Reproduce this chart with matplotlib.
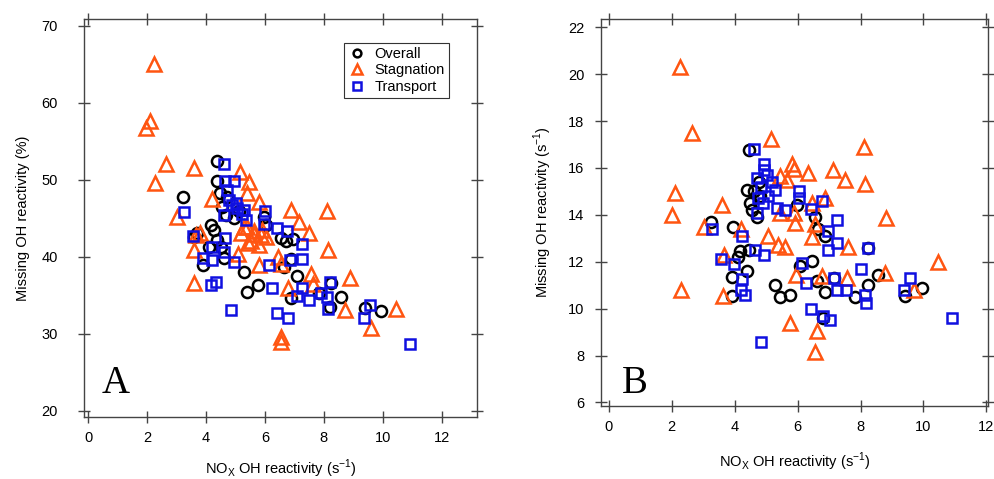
import matplotlib
matplotlib.use("Agg")
from matplotlib import pyplot as plt

# Panel A: missing OH reactivity (%) vs NOx OH reactivity (s-1)
overall_a_x = [4.38, 4.36, 4.47, 3.21, 4.72, 4.67, 4.95, 4.16, 4.27, 3.70, 4.38, 4.10, 4.50, 3.88,
               5.27, 5.75, 5.40, 5.97, 6.03, 6.54, 6.94, 6.70, 6.88, 7.10, 6.65, 6.88, 7.84, 8.24,
               8.58, 8.22, 9.38, 9.95, 4.55, 5.10, 3.59, 4.60]
overall_a_y = [52.5, 49.9, 48.3, 47.8, 47.8, 45.5, 45.0, 44.2, 43.5, 43.1, 42.2, 41.3, 41.3, 38.9,
               38.0, 36.4, 35.5, 45.2, 44.2, 42.4, 42.3, 42.0, 39.7, 37.5, 38.7, 34.6, 35.3, 36.6,
               34.8, 33.5, 33.3, 33.0, 46.5, 46.0, 42.6, 39.8]

stag_a_x = [2.23, 2.08, 1.94, 2.63, 3.58, 2.25, 5.16, 5.44, 4.20, 3.02, 5.80, 6.87, 8.09, 7.14,
            7.50, 3.80, 3.58, 8.13, 5.07, 5.42, 5.63, 5.91, 5.29, 6.43, 6.55, 5.80, 3.59, 7.56,
            7.62, 8.87, 6.78, 8.71, 10.46, 9.61, 6.54, 6.54, 5.40, 5.40, 5.63, 5.86, 5.52, 5.80,
            6.03, 5.18, 3.64]
stag_a_y = [65.1, 57.6, 56.7, 52.1, 51.5, 49.6, 51.0, 49.7, 47.5, 45.2, 47.1, 46.1, 45.9, 44.5,
            43.1, 43.1, 40.9, 40.9, 40.4, 41.8, 43.4, 43.5, 43.9, 40.0, 39.1, 39.0, 36.6, 37.8,
            36.5, 37.2, 36.0, 33.1, 33.2, 30.7, 29.6, 29.0, 48.3, 43.9, 43.0, 42.9, 42.0, 41.6,
            42.6, 43.1, 42.9]

trans_a_x = [4.59, 4.63, 4.95, 4.72, 4.78, 5.06, 5.29, 4.89, 4.61, 5.37, 3.25, 3.56, 4.63, 4.21,
             3.90, 4.21, 4.61, 4.93, 4.15, 4.33, 4.84, 6.00, 5.95, 6.40, 6.74, 7.25, 7.24, 6.86,
             6.12, 6.23, 7.25, 7.08, 7.50, 7.90, 8.22, 8.10, 8.15, 6.40, 6.77, 9.58, 9.36, 10.93,
             5.00, 5.23]
trans_a_y = [52.1, 49.9, 49.8, 48.7, 47.4, 46.3, 46.1, 46.8, 45.5, 44.8, 45.8, 42.7, 42.4, 41.3,
             39.8, 39.6, 40.6, 39.3, 36.4, 36.8, 33.1, 46.0, 44.3, 43.7, 43.4, 41.7, 39.7, 39.6,
             39.0, 36.0, 36.0, 34.9, 34.4, 35.3, 36.7, 34.8, 33.2, 32.7, 32.1, 33.8, 32.0, 28.7,
             47.0, 45.6]

# Panel B: missing OH reactivity (s-1) vs NOx OH reactivity (s-1)
overall_b_x = [4.44, 4.76, 4.39, 4.49, 4.71, 3.25, 3.95, 4.18, 4.44, 4.12, 4.39, 3.91, 3.91, 6.87,
               8.25, 6.45, 6.08, 5.29, 5.44, 5.76, 6.61, 7.14, 6.87, 7.82, 8.25, 8.56, 9.41, 9.94,
               6.82, 6.55, 6.66, 5.97, 4.60, 4.80, 4.55]
overall_b_y = [16.75, 15.4, 15.05, 14.5, 13.9, 13.7, 13.5, 12.45, 12.5, 12.2, 11.6, 11.35, 10.55,
               13.1, 12.6, 12.05, 11.8, 11.0, 10.5, 10.6, 11.2, 11.3, 10.7, 10.5, 11.0, 11.45,
               10.55, 10.9, 9.6, 13.9, 13.4, 14.4, 15.0, 14.8, 14.2]

stag_b_x = [2.25, 2.64, 5.16, 8.10, 5.82, 5.87, 6.34, 7.12, 7.52, 8.15, 5.43, 5.66, 2.11, 2.00,
            3.60, 3.01, 4.20, 5.45, 5.87, 5.92, 6.87, 6.56, 6.45, 5.07, 5.39, 5.60, 7.61, 8.80,
            3.65, 10.45, 8.78, 5.96, 6.77, 7.57, 9.70, 2.29, 3.63, 5.76, 6.61, 6.54, 6.45]
stag_b_y = [20.3, 17.5, 17.25, 16.9, 16.15, 15.95, 15.8, 15.9, 15.5, 15.3, 15.65, 15.5, 14.95,
            14.0, 14.4, 13.5, 13.4, 14.1, 14.1, 13.65, 14.7, 13.6, 13.05, 13.1, 12.7, 12.65,
            12.65, 13.85, 12.3, 12.0, 11.5, 11.45, 11.4, 11.3, 10.8, 10.8, 10.55, 9.4, 9.05,
            8.15, 14.5]

trans_b_x = [4.60, 4.92, 4.94, 5.02, 5.18, 5.29, 5.07, 5.34, 4.71, 4.85, 4.75, 4.90, 4.70, 6.03,
             6.03, 6.43, 6.76, 7.25, 6.98, 7.26, 6.96, 8.25, 3.28, 4.23, 4.63, 4.92, 3.57, 3.99,
             4.23, 4.20, 4.33, 6.13, 6.27, 8.01, 7.24, 7.54, 8.14, 8.16, 9.38, 9.57, 6.43, 6.82,
             7.03, 4.83, 10.92, 7.17, 5.60]
trans_b_y = [16.8, 16.15, 15.9, 15.7, 15.4, 15.05, 14.8, 14.3, 15.55, 15.2, 14.7, 14.5, 14.1,
             15.0, 14.7, 14.25, 14.6, 13.8, 13.3, 12.8, 12.5, 12.6, 13.4, 13.1, 12.5, 12.3, 12.1,
             11.9, 11.25, 10.8, 10.6, 11.95, 11.1, 11.7, 10.8, 10.8, 10.6, 10.25, 10.8, 11.3,
             10.0, 9.7, 9.5, 8.6, 9.6, 11.3, 14.2]

ORANGE = "#ff5511"
BLUE = "#1010e0"
FRAME = "#444444"

plt.rcParams["font.family"] = ["Liberation Sans", "DejaVu Sans"]


def style_axis(ax, ypad):
    for s in ax.spines.values():
        s.set_color(FRAME)
        s.set_linewidth(1.0)
    ax.tick_params(direction="inout", length=8, width=1, color=FRAME,
                   top=True, right=True, labelsize=10.5, pad=6)
    ax.tick_params(axis="y", pad=ypad)
    ax.set_xticks([0, 2, 4, 6, 8, 10, 12])


def draw(ax, ox, oy, sx, sy, tx, ty):
    ax.plot(ox, oy, "o", ms=8, mfc="none", mec="black", mew=1.8, label="Overall")
    ax.plot(sx, sy, "^", ms=9.5, mfc="none", mec=ORANGE, mew=1.8, label="Stagnation")
    ax.plot(tx, ty, "s", ms=7.5, mfc="none", mec=BLUE, mew=1.8, label="Transport")


def main():
    fig = plt.figure(figsize=(9.95, 4.79), dpi=100)
    xlab = "NO$_\\mathregular{X}$ OH reactivity (s$^\\mathregular{-1}$)"

    ax_a = fig.add_axes([84 / 995, 62 / 479, 393 / 995, 398 / 479])
    draw(ax_a, overall_a_x, overall_a_y, stag_a_x, stag_a_y, trans_a_x, trans_a_y)
    ax_a.set_xlim(-0.15, 13.2)
    ax_a.set_ylim(19.2, 70.9)
    ax_a.set_yticks([20, 30, 40, 50, 60, 70])
    style_axis(ax_a, 15)
    ax_a.set_xlabel(xlab, fontsize=10.5, labelpad=9)
    ax_a.set_ylabel("Missing OH reactivity (%)", fontsize=10.5, labelpad=8)
    ax_a.text(0.046, 0.06, "A", transform=ax_a.transAxes, fontsize=28,
              family="Liberation Serif", va="baseline")
    leg = ax_a.legend(loc="upper right", bbox_to_anchor=(0.929, 0.94), borderaxespad=0,
                      fancybox=False, edgecolor="#333333", framealpha=1, fontsize=10.5,
                      handletextpad=0.6, handlelength=1.2, borderpad=0.3, labelspacing=0.15,
                      markerscale=0.7)
    leg.get_frame().set_linewidth(0.8)

    ax_b = fig.add_axes([601 / 995, 73 / 479, 387 / 995, 387 / 479])
    draw(ax_b, overall_b_x, overall_b_y, stag_b_x, stag_b_y, trans_b_x, trans_b_y)
    ax_b.set_xlim(-0.25, 12.05)
    ax_b.set_ylim(5.85, 22.35)
    ax_b.set_yticks([6, 8, 10, 12, 14, 16, 18, 20, 22])
    style_axis(ax_b, 8)
    ax_b.set_xlabel(xlab, fontsize=10.5, labelpad=12)
    ax_b.set_ylabel("Missing OH reactivity (s$^\\mathregular{-1}$)", fontsize=10.5, labelpad=10)
    ax_b.text(0.054, 0.034, "B", transform=ax_b.transAxes, fontsize=28,
              family="Liberation Serif", va="baseline")

    fig.savefig("out.png", dpi=100)


if __name__ == "__main__":
    main()
